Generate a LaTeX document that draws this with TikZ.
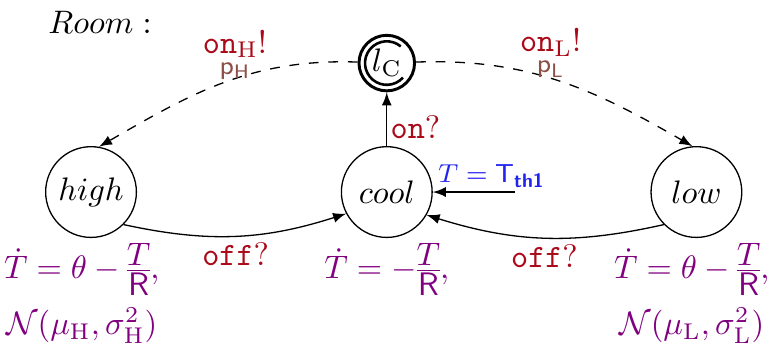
\documentclass[tikz,border=0pt]{standalone}
\usepackage{amsmath}
\usepackage{amssymb}
\usepackage{xcolor}
\usetikzlibrary{shapes,arrows,positioning}

\definecolor{syncred}{RGB}{170,10,25}
\definecolor{probbrown}{RGB}{140,80,70}
\definecolor{invpurple}{RGB}{128,0,128}
\definecolor{guardblue}{RGB}{35,35,240}

\newcommand{\flowfrac}[2]{\frac{\mbox{$#1$}}{\mbox{$#2$}}}

\begin{document}
\begin{tikzpicture}[node distance=2.2cm,
    state/.style={circle, draw, minimum size=0.98cm, inner sep=0pt},
    arrow/.style={->,>=latex},
    sync/.style={text=syncred, inner sep=1pt},
    prob/.style={text=probbrown, inner sep=1pt, font=\footnotesize},
    inv/.style={text=invpurple, align=center, inner sep=1pt, execute at begin node={\nulldelimiterspace=0pt}},
    guard/.style={text=guardblue, inner sep=1pt, font=\footnotesize}]

    \useasboundingbox (0,0) rectangle (8.305,-3.726);

    \node at (1.08,-0.24) (title) {$Room:$};

    \node [state] at (0.983,-2.074) (high) {$high$};
    \node [state, right=2.2cm of high] (cool) {$cool$};
    \node [state, right=2.35cm of cool] (low) {$low$};
    \node [circle, draw, line width=0.9pt, minimum size=0.6cm, inner sep=0pt, above=0.58cm of cool] (lc) {$l_{\mathrm{C}}$};
    \draw [line width=0.8pt] ([shift={(50:0.235)}]lc.center) arc[start angle=50, end angle=318, radius=0.235];
    \coordinate [right=0.886cm of cool] (thr);

    % flow and noise of each location
    \node [inv, below=0.5pt of high, xshift=-0.1cm] (invhigh) {$\dot{T} = \theta - \flowfrac{T}{\mathsf{R}},$\\[3pt]$\mathcal{N}(\mu_{\mathrm{H}},\sigma^2_{\mathrm{H}})$};
    \node [inv, below=0.5pt of cool] (invcool) {$\dot{T} = -\flowfrac{T}{\mathsf{R}},$};
    \node [inv, below=0.5pt of low, xshift=-0.05cm] (invlow) {$\dot{T} = \theta - \flowfrac{T}{\mathsf{R}},$\\[3pt]$\mathcal{N}(\mu_{\mathrm{L}},\sigma^2_{\mathrm{L}})$};

    \draw [arrow] (cool) -- node[sync, right, pos=0.35] {$\mathtt{on}?$} (lc);
    \draw [arrow] (thr) -- node[guard, above, pos=0.28] {$T = \mathsf{T}_{\textsf{\textbf{th1}}}$} (cool);
    \draw [arrow] (high.-45) to[bend right=15] node[sync, below=1pt] {$\mathtt{off}?$} (cool.208);
    \draw [arrow] (low.-135) to[bend left=15] node[sync, below=1pt] {$\mathtt{off}?$} (cool.-30);
    \draw [arrow, dashed] (lc) to[out=178, in=30] node[prob, above, xshift=0.13cm] (ph) {$\mathsf{p}_{\mathsf{H}}$} (high.80);
    \draw [arrow, dashed] (lc) to[out=2, in=150] node[prob, above, xshift=-0.1cm] (pl) {$\mathsf{p}_{\mathsf{L}}$} (low.95);
    \node [sync, above=-1pt of ph] (onh) {$\mathtt{on}_{\mathrm{H}}!$};
    \node [sync, above=-1pt of pl] (onl) {$\mathtt{on}_{\mathrm{L}}!$};
\end{tikzpicture}
\end{document}
